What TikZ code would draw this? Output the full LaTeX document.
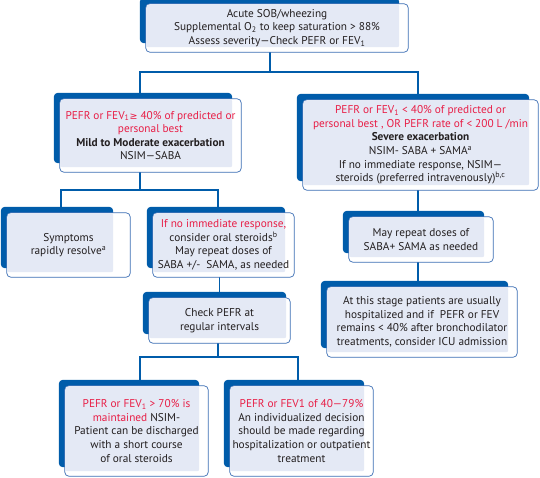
\documentclass[tikz,border=0pt]{standalone}
\usepackage{fontspec}
\setmainfont{PT Sans}
\newfontfamily\symfont{DejaVu Sans}
\usetikzlibrary{backgrounds}

\definecolor{panelblue}{RGB}{0,92,170}
\definecolor{panelfill}{RGB}{228,233,245}
\definecolor{edgeblue}{RGB}{60,110,180}
\definecolor{alertred}{RGB}{232,30,70}
\definecolor{inkgray}{RGB}{35,31,32}

\newcommand{\low}[1]{\textsubscript{#1}}
\newcommand{\geqsym}{{\symfont\fontsize{9.5}{9.5}\selectfont ≥}}
\newcommand{\red}[1]{\textcolor{alertred}{#1}}

% dark band, white frame and light fill behind a box
\newcommand{\panel}[2][9pt]{%
  \fill[panelblue, rounded corners=4pt] ([xshift=-6pt,yshift=6pt]#2.north west) rectangle ([xshift=-#1,yshift=9pt]#2.south east);
  \draw[edgeblue, line width=.7pt, fill=white, rounded corners=4pt] (#2.north west) rectangle (#2.south east);
  \fill[panelfill, rounded corners=2pt] ([xshift=.7pt,yshift=-.7pt]#2.north west) rectangle ([xshift=-#1,yshift=5pt]#2.south east);
}

\tikzset{
  box/.style={inner sep=0pt, align=center, text=inkgray,
              font=\fontsize{11.3}{13.6}\selectfont},
  link/.style={draw=panelblue, line width=1.4pt},
}

\begin{document}
\begin{tikzpicture}[x=1pt, y=-1pt]
  \useasboundingbox (0,0) rectangle (540,477);

  \node[box, minimum width=262pt, minimum height=48pt] (acute) at (277,28)
    {Acute SOB/wheezing\\Supplemental O\low{2} to keep saturation > 88\%\\Assess severity—Check PEFR or FEV\low{1}};

  \node[box, minimum width=181pt, minimum height=73pt] (mild) at (150.5,135.5)
    {\red{PEFR or FEV\low{1}\geqsym{} 40\% of predicted or}\\\red{personal best}\\\textbf{Mild to Moderate exacerbation}\\NSIM—SABA};
  \node[box, minimum width=235pt, minimum height=90pt] (severe) at (420.5,145)
    {\red{PEFR or FEV\low{1} < 40\% of predicted or}\\\red{personal best , OR PEFR rate of < 200 L /min}\\\textbf{Severe exacerbation}\\NSIM- SABA + SAMA\textsuperscript{a}\\If no immediate response, NSIM—\\steroids (preferred intravenously)\textsuperscript{b,c}};

  \node[box, minimum width=123pt, minimum height=64pt] (symptoms) at (68.5,245)
    {Symptoms\\rapidly resolve\textsuperscript{a}};
  \node[box, minimum width=141pt, minimum height=64pt] (noresp) at (223.5,245)
    {\red{If no immediate response,}\\consider oral steroids\textsuperscript{b}\\May repeat doses of\\SABA +/-\ \ SAMA, as needed};
  \node[box, minimum width=144pt, minimum height=45pt] (repeat) at (421,239.5)
    {May repeat doses of\\SABA+ SAMA as needed};

  \node[box, minimum width=141pt, minimum height=45pt] (check) at (219.5,320.5)
    {Check PEFR at\\regular intervals};
  \node[box, minimum width=190pt, minimum height=70pt] (icu) at (422,322)
    {At this stage patients are usually\\hospitalized and if\ \ PEFR or FEV\\remains < 40\% after bronchodilator\\treatments, consider ICU admission};

  \node[box, minimum width=143pt, minimum height=90pt] (discharge) at (136.5,431)
    {\red{PEFR or FEV\low{1} > 70\% is}\\\red{maintained} NSIM-\\Patient can be discharged\\with a short course\\of oral steroids};
  \node[box, minimum width=143pt, minimum height=90pt] (individual) at (301.5,431)
    {\red{PEFR or FEV1 of 40—79\%}\\An individualized decision\\should be made regarding\\hospitalization or outpatient\\treatment};

  \coordinate (split1) at (270,72);
  \coordinate (split2) at (140,190);
  \coordinate (split3) at (218,357);

  \begin{pgfonlayer}{background}
    % connectors
    \draw[link] (acute.south -| split1) -- (split1);
    \draw[link] ([xshift=-10.5pt]mild.north) |- (split1) -| ([xshift=-2.5pt]severe.north);
    \draw[link] ([xshift=-10.5pt]mild.south) -- (split2);
    \draw[link] ([xshift=-7.5pt]symptoms.north) |- (split2) -| ([xshift=-5.5pt]noresp.north);
    \draw[link] (check.north |- noresp.south) -- (check.north);
    \draw[link] (check.south -| split3) -- (split3);
    \draw[link] ([xshift=3.5pt]discharge.north) |- (split3) -| ([xshift=-3.5pt]individual.north);
    \draw[link] ([xshift=-2.5pt]severe.south) -- ([xshift=-2.5pt]severe.south |- repeat.north);
    \draw[link] ([xshift=-3pt]repeat.south) -- ([xshift=-3pt]repeat.south |- icu.north);
    % boxes
    \panel{acute}
    \panel{mild}
    \panel{severe}
    \panel[17pt]{symptoms}
    \panel{noresp}
    \panel{repeat}
    \panel[4pt]{check}
    \panel{icu}
    \panel{discharge}
    \panel{individual}
  \end{pgfonlayer}
\end{tikzpicture}
\end{document}
